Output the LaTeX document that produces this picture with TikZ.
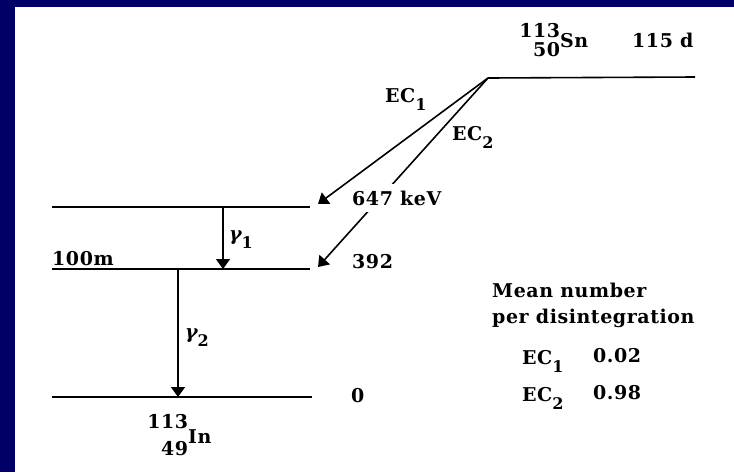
\documentclass[tikz,border=0pt]{standalone}
\usepackage{fontspec}
\setmainfont{DejaVu Serif}[LetterSpace=3]
\usetikzlibrary{arrows.meta}
\definecolor{navy}{HTML}{000066}
\newcommand\lowsub[1]{\raisebox{-8pt}{\fontsize{16}{17}\selectfont #1}}
\newcommand\nucl[5]{\llap{\raisebox{#4}{#1}}\llap{\raisebox{#5}{#2}}#3}
\tikzset{
  lvl/.style={line width=1.6pt},
  arr/.style={line width=1.6pt,-{Triangle[length=10pt,width=14pt]}},
  txt/.style={inner sep=0pt,anchor=base west,font=\bfseries\fontsize{19}{21}\selectfont}
}
\begin{document}
\begin{tikzpicture}[x=1pt,y=-1pt]
\useasboundingbox (0,0) rectangle (734,472);
\fill[white] (0,0) rectangle (734,472);
\fill[navy] (0,0) rectangle (15,472);
\fill[navy] (0,0) rectangle (734,7);
% coordinates
\coordinate (apex) at (488,78);
\coordinate (snend) at (695,77);
\coordinate (L1a) at (52,207);
\coordinate (L1b) at (310,207);
\coordinate (L2a) at (52,269);
\coordinate (L2b) at (310,269);
\coordinate (L0a) at (52,397);
\coordinate (L0b) at (312,397);
\coordinate (t1) at (318,204);
\coordinate (t2) at (318,267);
\coordinate (g1s) at (223,207);
\coordinate (g1e) at (223,269);
\coordinate (g2s) at (178,269);
\coordinate (g2e) at (178,397);
% levels
\draw[lvl] (apex) -- (snend);
\draw[lvl] (L1a) -- (L1b);
\draw[lvl] (L2a) -- (L2b);
\draw[lvl] (L0a) -- (L0b);
% transitions
\draw[arr] (apex) -- (t1);
\draw[arr] (apex) -- (t2);
\draw[arr] (g1s) -- (g1e);
\draw[arr] (g2s) -- (g2e);
% labels
\node[txt,fill=white,inner xsep=2pt,inner ysep=7pt] (kev) at (350,205) {647 keV};
\node[txt] (e392) at (352,268) {392};
\node[txt] (e0) at (351,402) {0};
\node[txt] (hl) at (52,265) {100m};
\node[txt] (ec1) at (385,102) {EC\lowsub{1}};
\node[txt] (ec2) at (452,140) {EC\lowsub{2}};
\node[txt] (g1) at (229,240) {{\itshape γ}\lowsub{1}};
\node[txt] (g2) at (185,338) {{\itshape γ}\lowsub{2}};
\node[txt] (sn) at (560,47) {\nucl{113}{50}{Sn}{10pt}{-9pt}};
\node[txt] (hd) at (632,47) {115 d};
\node[txt] (in) at (188,443) {\nucl{113}{49}{In}{15pt}{-12pt}};
\node[txt] (mn) at (492,297) {Mean number};
\node[txt] (pd) at (492,323) {per disintegration};
\node[txt] (tec1) at (522,364) {EC\lowsub{1}};
\node[txt] (v1) at (593,362) {0.02};
\node[txt] (tec2) at (522,401) {EC\lowsub{2}};
\node[txt] (v2) at (593,399) {0.98};
\end{tikzpicture}
\end{document}
